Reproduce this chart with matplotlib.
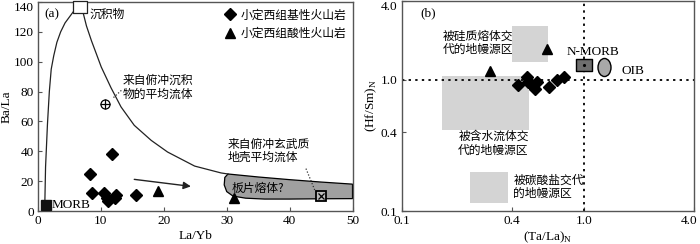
import matplotlib
matplotlib.use('Agg')
import matplotlib.pyplot as plt
from matplotlib.patches import Rectangle, Polygon
from matplotlib.path import Path
from matplotlib.transforms import Affine2D, ScaledTranslation
import matplotlib.ticker as mticker

plt.rcParams['font.family'] = ['Liberation Serif', 'Noto Sans CJK SC']
plt.rcParams['mathtext.fontset'] = 'custom'
plt.rcParams['mathtext.rm'] = 'Liberation Serif'

# ---------------- data: panel (a) ----------------
basic_a_layb = [8.2, 8.6, 11.8, 10.5, 11.0, 11.2, 12.2, 12.4, 15.5]
basic_a_bala = [25.0, 12.3, 38.0, 12.1, 8.9, 6.7, 8.9, 10.9, 10.9]
acid_a_layb = [19.0, 31.1]
acid_a_bala = [13.4, 8.5]
morb_a = (1.2, 3.8)
sediment_a = (6.7, 136.6)
sed_fluid_a = (10.6, 71.9)
basalt_fluid_a = (45.0, 9.8)

sediment_curve_x = [1.06, 1.2, 1.5, 1.8, 2.1, 2.5, 3.0, 3.6, 4.3, 5.0, 5.7,
                    6.4, 7.1, 7.7, 8.5, 9.3, 10.05, 11.6, 13.2, 15.3, 18.0,
                    20.6, 24.9, 29.1, 30.2]
sediment_curve_y = [0, 29.5, 58, 80, 95, 104, 113, 120, 126, 130, 134,
                    137, 134, 124, 114, 105, 96.5, 82.6, 69.7, 57.4, 47.3,
                    39.5, 30.1, 25.5, 24.8]
slab_top_x = [30.2, 35, 40, 45, 50]
slab_top_y = [24.8, 22.8, 21.0, 19.4, 18.0]
slab_bottom_x = [50, 45, 40, 36, 33, 31, 30.0, 29.6, 29.7]
slab_bottom_y = [8.3, 8.2, 8.0, 8.0, 8.6, 10.0, 13.0, 17.5, 22.5]
trend_arrow = [(15.3, 21.2), (24.3, 16.5)]

# ---------------- data: panel (b) ----------------
basic_b_tala = [0.436, 0.484, 0.494, 0.516, 0.538, 0.55, 0.641, 0.707, 0.778]
basic_b_hfsm = [0.915, 1.05, 0.97, 0.915, 0.848, 0.97, 0.877, 1.0, 1.05]
acid_b_tala = [0.305, 0.628]
acid_b_hfsm = [1.17, 1.71]
nmorb_b = (1.0, 1.31)
oib_b = (1.29, 1.26)
silicate_box = (0.404, 0.631, 1.36, 2.59)
hydrous_box = (0.167, 0.498, 0.415, 1.08)
carbonate_box = (0.238, 0.384, 0.116, 0.197)
b_ticks = [0.1, 0.4, 1.0, 4.0]
b_ticklabels = ['0.1', '0.4', '1.0', '4.0']

fig = plt.figure(figsize=(7.0, 2.44), dpi=100)
axa = fig.add_axes([0.0543, 0.1352, 0.4493, 0.8566])
axb = fig.add_axes([0.5739, 0.1352, 0.4175, 0.8607])

spine_col = '#555555'
fs = 8.5
tfs = 9.5
cjk = ['Noto Sans CJK SC', 'Liberation Serif']

for ax in (axa, axb):
    for s in ax.spines.values():
        s.set_color(spine_col)
        s.set_linewidth(1.0)
    ax.tick_params(direction='in', length=3, width=0.8, color=spine_col,
                   labelsize=tfs, pad=3)

# ---------------- panel (a) ----------------
axa.set_xlim(0, 50)
axa.set_ylim(0, 140)
axa.set_xticks([0, 10, 20, 30, 40, 50])
axa.set_yticks(range(0, 141, 20))
axa.set_xlabel('La/Yb', fontsize=tfs, labelpad=2)
axa.set_ylabel('Ba/La', fontsize=tfs, labelpad=1)

slab_x = slab_top_x + slab_bottom_x
slab_y = slab_top_y + slab_bottom_y
axa.add_patch(Polygon(list(zip(slab_x, slab_y)), closed=True,
                      facecolor='#a0a0a0', edgecolor='black', lw=0.9, zorder=2))
axa.plot(sediment_curve_x, sediment_curve_y, color='#222222', lw=0.9, zorder=2)

rect_marker = Path.unit_rectangle().transformed(Affine2D().translate(-0.5, -0.5).scale(1.27, 1))
axa.plot(*sediment_a, marker=rect_marker, ms=10.5, mfc='white', mec='#222222',
         mew=0.9, ls='none', zorder=4, clip_on=False)
axa.plot(*morb_a, marker='s', ms=7, mfc='#111111', mec='#111111', ls='none', zorder=4)
axa.plot(*sed_fluid_a, marker='o', ms=6.5, mfc='white', mec='black', mew=0.9, ls='none', zorder=4)
axa.plot(*sed_fluid_a, marker='+', ms=6.5, mec='black', mew=0.9, ls='none', zorder=5)
axa.plot(*basalt_fluid_a, marker='s', ms=7, mfc='#bbbbbb', mec='black', mew=1.3, ls='none', zorder=4)
axa.plot(*basalt_fluid_a, marker='x', ms=4.5, mec='black', mew=0.9, ls='none', zorder=5)

hb, = axa.plot(basic_a_layb, basic_a_bala, marker='D', ms=6.5, color='black',
               ls='none', zorder=5, label='小定西组基性火山岩')
ht, = axa.plot(acid_a_layb, acid_a_bala, marker='^', ms=7.5, color='black',
               ls='none', zorder=5, label='小定西组酸性火山岩')

axa.annotate('', xy=trend_arrow[1], xytext=trend_arrow[0],
             arrowprops=dict(arrowstyle='-|>', color='#222222', lw=1.0,
                             mutation_scale=11, shrinkA=0, shrinkB=0))

leg = axa.legend(handles=[hb, ht], loc='upper right', frameon=False,
                 prop={'family': cjk, 'size': fs}, handlelength=0.9,
                 handletextpad=0.4, labelspacing=0.45, borderaxespad=0.25,
                 borderpad=0.3, markerscale=0.95)

axa.text(1.06, 131.7, '(a)', fontsize=tfs, ha='left', va='center')
axa.text(8.2, 131.7, '沉积物', family=cjk, fontsize=fs, ha='left', va='center')
axa.text(2.1, 3.8, 'MORB', fontsize=tfs, ha='left', va='center')
axa.text(13.5, 83, '来自俯冲沉积\n物的平均流体', family=cjk, fontsize=fs,
         ha='left', va='center', linespacing=1.05)
axa.plot([12.0, 13.3], [76.0, 81.0], color='#333333', lw=0.9, ls=(0, (1, 1.5)))
axa.text(30.2, 40.2, '来自俯冲玄武质\n地壳平均流体', family=cjk, fontsize=fs,
         ha='left', va='center', linespacing=1.05)
axa.plot([42.6, 44.0], [28.4, 14.0], color='#333333', lw=0.9, ls=(0, (1, 1.5)))
axa.text(30.7, 15.4, '板片熔体?', family=cjk, fontsize=fs, ha='left', va='center')

# ---------------- panel (b) ----------------
axb.set_xscale('log')
axb.set_yscale('log')
axb.set_xlim(0.1, 4.0)
axb.set_ylim(0.1, 4.0)
axb.set_xticks(b_ticks)
axb.set_xticklabels(b_ticklabels)
axb.set_yticks(b_ticks)
axb.set_yticklabels(b_ticklabels)
axb.xaxis.set_minor_locator(mticker.NullLocator())
axb.yaxis.set_minor_locator(mticker.NullLocator())
axb.set_xlabel(r'(Ta/La)$_\mathregular{N}$', fontsize=tfs, labelpad=2)
axb.set_ylabel(r'(Hf/Sm)$_\mathregular{N}$', fontsize=tfs, labelpad=1)

for (x0, x1, y0, y1) in (silicate_box, hydrous_box, carbonate_box):
    axb.add_patch(Rectangle((x0, y0), x1 - x0, y1 - y0, facecolor='#d4d4d4',
                            edgecolor='none', zorder=1))

dot = (0, (1.2, 2.2))
axb.axhline(1.0, color='#111111', lw=1.4, ls=dot, zorder=2)
axb.axvline(1.0, color='#111111', lw=1.4, ls=dot, zorder=2)

axb.plot(basic_b_tala, basic_b_hfsm, marker='D', ms=6.5, color='black', ls='none', zorder=5)
axb.plot(acid_b_tala, acid_b_hfsm, marker='^', ms=7.5, color='black', ls='none', zorder=5)

nm_marker = Path.unit_rectangle().transformed(Affine2D().translate(-0.5, -0.5).scale(1.33, 1))
axb.plot(*nmorb_b, marker=nm_marker, ms=11.5, mfc='#6e6e6e', mec='black', mew=1.0,
         ls='none', zorder=4)
axb.plot(*nmorb_b, marker='.', ms=2.5, color='black', ls='none', zorder=5)
ell_marker = Path.unit_circle().transformed(Affine2D().scale(0.72, 1))
axb.plot(*oib_b, marker=ell_marker, ms=13, mfc='#a8a8a8', mec='black', mew=1.0,
         ls='none', zorder=4)

axb.text(0.126, 3.22, '(b)', fontsize=tfs, ha='left', va='center')
axb.text(0.8, 1.62, 'N-MORB', fontsize=tfs, ha='left', va='center')
axb.text(1.6, 1.16, 'OIB', fontsize=tfs, ha='left', va='center')
axb.text(0.409, 1.92, '被硅质熔体交\n代的地幔源区', family=cjk, fontsize=fs,
         ha='right', va='center', linespacing=1.05)
axb.text(0.204, 0.328, '被含水流体交\n代的地幔源区', family=cjk, fontsize=fs,
         ha='left', va='center', linespacing=1.05)
axb.text(0.409, 0.153, '被碳酸盐交代\n的地幔源区', family=cjk, fontsize=fs,
         ha='left', va='center', linespacing=1.05)

# keep the edge tick labels inside the figure, as in the reference
fig.canvas.draw()
axa.get_yticklabels()[-1].set_va('top')
axb.get_yticklabels()[-1].set_va('top')
last_x = axb.get_xticklabels()[-1]
last_x.set_transform(last_x.get_transform() +
                     ScaledTranslation(-5 / 100, 0, fig.dpi_scale_trans))

fig.savefig('out.png', dpi=100)
